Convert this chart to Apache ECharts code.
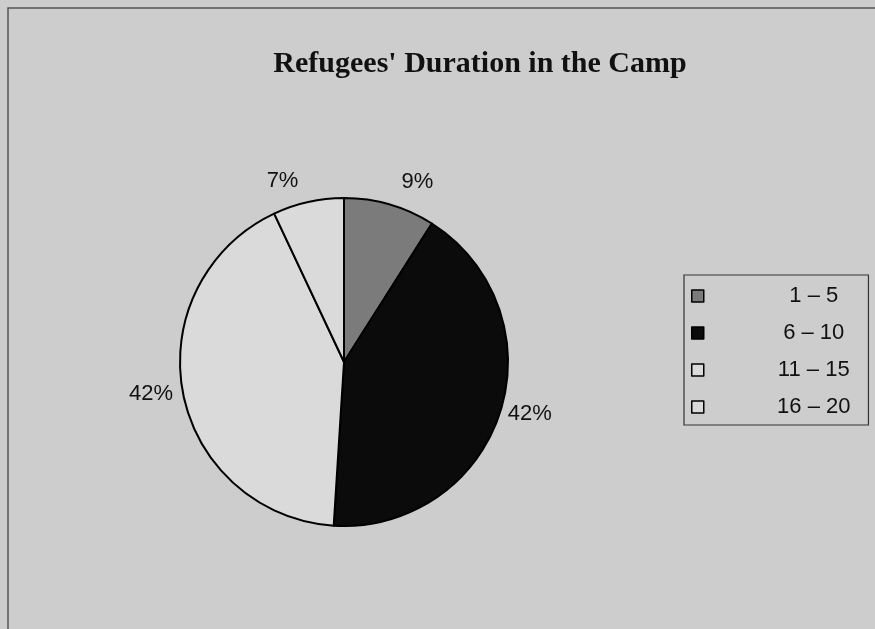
<!DOCTYPE html>
<html><head><meta charset="utf-8">
<script src="https://cdn.jsdelivr.net/npm/echarts@6/dist/echarts.min.js"></script>
<style>html,body{margin:0;padding:0;background:#cdcdcd;}#c{width:875px;height:629px;}</style>
</head><body><div id="c"></div>
<script>
const categories = ['1 – 5', '6 – 10', '11 – 15', '16 – 20'];
const values = [9, 42, 42, 7];
const colors = ['#7b7b7b', '#0b0b0b', '#dadada', '#dadada'];
const labelLens = [24, 3, 5, 22];

const chart = echarts.init(document.getElementById('c'));
chart.setOption({
  backgroundColor: '#cdcdcd',
  animation: false,
  title: {
    text: "Refugees' Duration in the Camp",
    left: 475, top: 44, textAlign: 'center',
    textStyle: {fontFamily: 'Liberation Serif', fontWeight: 'bold', fontSize: 30, color: '#111'}
  },
  graphic: [{
    type: 'rect', shape: {x: 8, y: 8, width: 880, height: 640},
    style: {fill: 'none', stroke: '#555', lineWidth: 1.5}, silent: true
  }],
  legend: {
    orient: 'vertical', left: 684, top: 275,
    padding: [10, 18, 7, 7],
    borderColor: '#333', borderWidth: 1.2,
    itemWidth: 12, itemHeight: 12, itemGap: 15,
    icon: 'rect',
    itemStyle: {borderColor: '#000', borderWidth: 1.5},
    formatter: name => '{a|' + name + '}',
    textStyle: {
      fontFamily: 'Liberation Sans', fontSize: 22, color: '#111',
      rich: {a: {fontFamily: 'Liberation Sans', fontSize: 22, color: '#111', width: 210, align: 'center'}}
    },
    data: categories
  },
  series: [{
    type: 'pie',
    center: [344, 362], radius: 164,
    startAngle: 90, clockwise: true,
    avoidLabelOverlap: false,
    itemStyle: {borderColor: '#000', borderWidth: 2},
    label: {
      show: true, position: 'outside', formatter: '{d}%',
      fontFamily: 'Liberation Sans', fontSize: 22, color: '#111'
    },
    labelLine: {show: false, length: 14, length2: 0},
    data: categories.map((c, i) => ({
      name: c, value: values[i], itemStyle: {color: colors[i]},
      labelLine: {show: false, length: labelLens[i], length2: 0}
    }))
  }]
});
</script></body></html>
